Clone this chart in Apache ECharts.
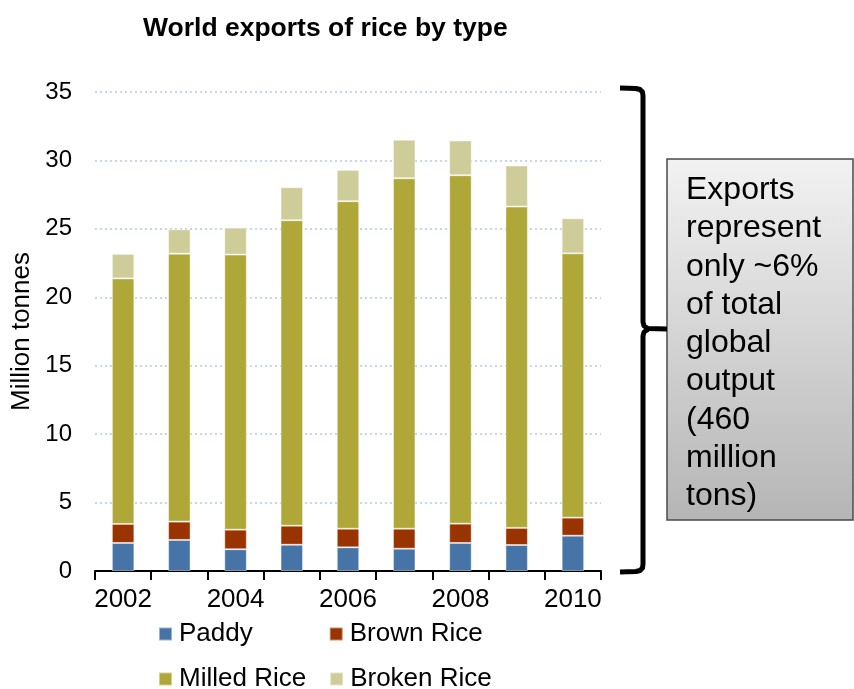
<!DOCTYPE html>
<html><head><meta charset="utf-8">
<script src="https://cdn.jsdelivr.net/npm/echarts@6/dist/echarts.min.js"></script>
<style>html,body{margin:0;padding:0;background:#fff}#c{width:854px;height:689px}</style>
</head><body><div id="c"></div>
<script>
var years = ['2002','2003','2004','2005','2006','2007','2008','2009','2010'];
var paddy = [2.05, 2.27, 1.59, 1.92, 1.73, 1.63, 2.05, 1.90, 2.58];
var brown = [1.39, 1.34, 1.43, 1.39, 1.36, 1.46, 1.41, 1.25, 1.32];
var milled = [17.94, 19.58, 20.10, 22.32, 23.93, 25.61, 25.46, 23.48, 19.31];
var broken = [1.79, 1.78, 1.97, 2.41, 2.29, 2.81, 2.54, 3.00, 2.56];
var seriesNames = ['Paddy','Brown Rice','Milled Rice','Broken Rice'];
var colors = ['#4674A7','#993300','#AFA838','#CECC98'];
var noteLines = ['Exports','represent','only ~6%','of total','global','output','(460','million','tons)'];

var F = 'Liberation Sans, Arial, sans-serif';
var chart = echarts.init(document.getElementById('c'), null, {renderer:'canvas'});
var dataSets = [paddy, brown, milled, broken];
var series = dataSets.map(function(d,i){
  return {
    name: seriesNames[i], type:'bar', stack:'t', data:d, barWidth:'40%',
    itemStyle:{color:colors[i], borderColor:'rgba(255,255,255,0.45)', borderWidth:1},
    emphasis:{disabled:true}, animation:false
  };
});
function legendCfg(names, top, gap){
  return {data:names, left:158, top:top, padding:0, itemGap:gap,
    itemWidth:13, itemHeight:13, icon:'rect',
    textStyle:{fontFamily:F, fontSize:26, color:'#000', padding:[0,0,0,2]}};
}
chart.setOption({
  animation:false,
  color:colors,
  title:{text:'World exports of rice by type', left:138, top:10,
    textStyle:{fontFamily:F, fontSize:26.5, fontWeight:'bold', color:'#000'}},
  grid:{left:95, right:253, top:92, bottom:118, containLabel:false},
  legend:[
    legendCfg(['Paddy','Brown Rice'], 621, 76),
    legendCfg(['Milled Rice','Broken Rice'], 666, 23)
  ],
  xAxis:{type:'category', data:years, boundaryGap:true,
    axisLine:{lineStyle:{color:'#000', width:2}},
    axisTick:{show:true, interval:0, length:9, lineStyle:{color:'#000', width:2}},
    axisLabel:{interval:1, fontFamily:F, fontSize:26, color:'#000', margin:16}
  },
  yAxis:{type:'value', min:0, max:35, interval:5,
    name:'Million tonnes', nameLocation:'middle', nameGap:58,
    nameTextStyle:{fontFamily:F, fontSize:26, color:'#000'},
    axisLine:{show:false}, axisTick:{show:false},
    axisLabel:{fontFamily:F, fontSize:24, color:'#000', margin:23},
    splitLine:{show:true, lineStyle:{color:'#C6D6EE', type:[2,3], width:2}}
  },
  series:series,
  graphic:[
    {type:'rect', shape:{x:667, y:159, width:186, height:361},
      style:{fill:new echarts.graphic.LinearGradient(0,0,0,1,[{offset:0,color:'#F2F2F2'},{offset:1,color:'#B5B5B5'}]),
        stroke:'#4A4A4A', lineWidth:1.5}, z:10},
    {type:'text', x:686, y:171, z:11,
      style:{text:noteLines.join('\n'), font:'32px Liberation Sans, Arial, sans-serif', lineHeight:38.3, fill:'#000'}},
    {type:'polyline', z:10, shape:{points:[[620,88],[636,88.5],[640,89.5],[642.5,92],[643,96],[643,322],[644,326],[648,328.5],[667,329]]},
      style:{fill:null, stroke:'#000', lineWidth:5, lineJoin:'round'}},
    {type:'polyline', z:10, shape:{points:[[648,329.5],[644,332],[643,336],[643,564],[642.5,568],[640,570.5],[636,571.5],[620,572]]},
      style:{fill:null, stroke:'#000', lineWidth:5, lineJoin:'round'}}
  ]
});
</script></body></html>
